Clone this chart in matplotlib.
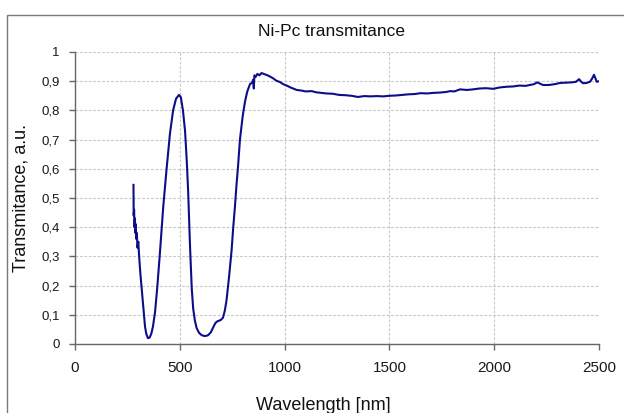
import matplotlib
matplotlib.use("Agg")
import matplotlib.pyplot as plt
from matplotlib.patches import Rectangle

plt.rcParams["font.family"] = ["Liberation Sans", "DejaVu Sans"]

# transmittance spectrum (nm, a.u.)
wavelength = [
    279, 280, 282, 284, 286, 288, 290, 292, 295, 298, 302, 306, 312, 318, 326,
    334, 340, 348, 356, 364, 372, 382, 392, 405, 421, 437, 453, 468, 482, 496,
    505, 515, 525, 533, 540, 549, 557, 564, 572, 580, 592, 605, 620, 635, 648,
    660, 670, 680, 695, 706, 715, 723, 735, 747, 755, 763, 770, 778, 787, 800,
    811, 822, 835, 845, 850, 853, 856, 862, 870, 880, 890, 900, 912, 925, 945,
    960, 978, 993, 1010, 1030, 1058, 1080, 1100, 1130, 1150, 1175, 1200, 1230,
    1260, 1290, 1320, 1350, 1380, 1410, 1440, 1470, 1500, 1530, 1560, 1590,
    1620, 1650, 1680, 1710, 1740, 1770, 1790, 1810, 1837, 1870, 1899, 1930,
    1960, 1995, 2030, 2060, 2090, 2120, 2150, 2171, 2190, 2205, 2218, 2233,
    2260, 2290, 2314, 2340, 2370, 2390, 2405, 2415, 2424, 2440, 2457, 2468,
    2476, 2483, 2489, 2500,
]
transmittance = [
    0.545, 0.44, 0.46, 0.40, 0.43, 0.38, 0.41, 0.36, 0.38, 0.33, 0.35, 0.30,
    0.24, 0.19, 0.12, 0.06, 0.035, 0.02, 0.022, 0.035, 0.06, 0.11, 0.19, 0.31,
    0.47, 0.60, 0.72, 0.80, 0.84, 0.853, 0.845, 0.80, 0.73, 0.63, 0.52, 0.33,
    0.19, 0.12, 0.08, 0.055, 0.038, 0.03, 0.027, 0.03, 0.04, 0.058, 0.072,
    0.078, 0.082, 0.09, 0.115, 0.15, 0.23, 0.32, 0.40, 0.47, 0.54, 0.61, 0.70,
    0.78, 0.83, 0.865, 0.89, 0.895, 0.905, 0.875, 0.92, 0.915, 0.925, 0.92,
    0.928, 0.925, 0.922, 0.918, 0.91, 0.902, 0.897, 0.89, 0.885, 0.878, 0.87,
    0.868, 0.865, 0.866, 0.862, 0.86, 0.858, 0.857, 0.853, 0.852, 0.85, 0.846,
    0.849, 0.848, 0.849, 0.848, 0.85, 0.851, 0.853, 0.855, 0.856, 0.859,
    0.858, 0.86, 0.861, 0.863, 0.866, 0.865, 0.872, 0.87, 0.872, 0.875, 0.876,
    0.874, 0.879, 0.881, 0.882, 0.885, 0.884, 0.887, 0.89, 0.896, 0.892,
    0.887, 0.887, 0.89, 0.894, 0.895, 0.896, 0.898, 0.907, 0.898, 0.893,
    0.894, 0.898, 0.91, 0.922, 0.91, 0.898, 0.90,
]

x_ticks = [0, 500, 1000, 1500, 2000, 2500]
y_ticks = [0, 0.1, 0.2, 0.3, 0.4, 0.5, 0.6, 0.7, 0.8, 0.9, 1.0]
y_labels = ["0", "0,1", "0,2", "0,3", "0,4", "0,5", "0,6", "0,7", "0,8", "0,9", "1"]

W, H = 624, 413
fig = plt.figure(figsize=(W / 100, H / 100), dpi=100)
fig.patch.set_facecolor("white")

# outer chart-area frame (runs off the right/bottom edge like the source crop)
top = 1 - 14.5 / H
fig.patches.append(Rectangle((7 / W, -0.2), 1.2, top + 0.2, transform=fig.transFigure,
                             fill=False, edgecolor="#7a7a7a", lw=1.0))

ax = fig.add_axes([75 / W, 1 - 344 / H, 524 / W, 292 / H])
ax.plot(wavelength, transmittance, color="#0d0d8a", lw=1.5, solid_joinstyle="round")

ax.set_xlim(0, 2500)
ax.set_ylim(0, 1)
ax.set_xticks(x_ticks)
ax.set_xticklabels([str(v) for v in x_ticks], fontsize=11)
ax.set_yticks(y_ticks)
ax.set_yticklabels(y_labels, fontsize=9.5)
ax.tick_params(axis="both", direction="out", length=4, width=1, color="#666666", labelcolor="#1a1a1a")
ax.tick_params(axis="x", pad=8)
ax.tick_params(axis="y", pad=7)

ax.grid(True, color="#c8c8c8", lw=0.8, linestyle=(0, (2.5, 1.5)))
ax.set_axisbelow(True)
for side in ("top", "right"):
    ax.spines[side].set_visible(False)
for side in ("left", "bottom"):
    ax.spines[side].set_color("#666666")
    ax.spines[side].set_linewidth(1.0)

fig.text(332 / W, 1 - 31.5 / H, "Ni-Pc transmitance", ha="center", va="center", fontsize=12.5, color="#111111")
fig.text(323 / W, 1 - 406 / H, "Wavelength [nm]", ha="center", va="center", fontsize=13, color="#111111")
fig.text(21 / W, 1 - 198 / H, "Transmitance, a.u.", ha="center", va="center", rotation=90, fontsize=13,
         color="#111111")

fig.savefig("out.png", dpi=100, facecolor=fig.get_facecolor())
